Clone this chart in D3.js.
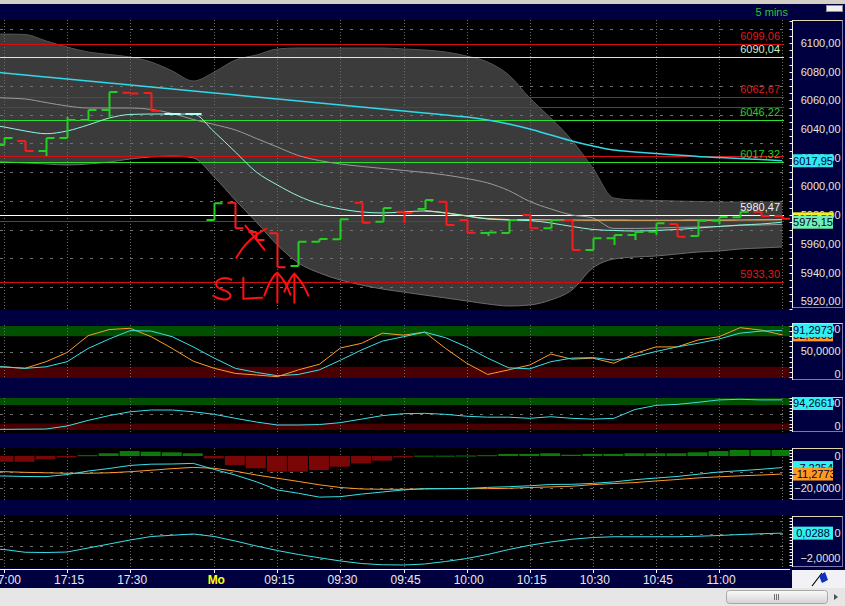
<!DOCTYPE html>
<html><head><meta charset="utf-8">
<script src="https://cdn.jsdelivr.net/npm/d3@7/dist/d3.min.js"></script>
<style>html,body{margin:0;padding:0;background:#000040;overflow:hidden}svg{display:block}</style>
</head><body>
<svg id="chart" width="845" height="606"></svg>
<script>
// ---------------- DATA ----------------
const times = ["16:55","17:00","17:05","17:10","17:15","17:20","17:25","17:30","17:35","17:40","17:45",
 "09:00","09:05","09:10","09:15","09:20","09:25","09:30","09:35","09:40","09:45","09:50","09:55",
 "10:00","10:05","10:10","10:15","10:20","10:25","10:30","10:35","10:40","10:45","10:50","10:55",
 "11:00","11:05","11:10","11:15"];
const gridTimes = ["17:00","17:15","17:30","09:00","09:15","09:30","09:45","10:00","10:15","10:30","10:45","11:00","11:15"];
const timeLabels = ["17:00","17:15","17:30","09:00","09:15","09:30","09:45","10:00","10:15","10:30","10:45","11:00"];
const dayLabel = "Mo";
const dayStart = "09:00";

const open  = [null,6028.9,6031.7,6024.8,6033.8,6046.3,6053.3,6065.4,6065.1,6050.5,6050.5,
 5976.7,5988.7,5968.3,5967.4,5944.6,5961.6,5963.3,5988.7,5975.5,5982.5,5984.3,5989.4,
 5976.7,5967.6,5967.6,5980.2,5970.9,5976.7,5955.8,5963.9,5966.2,5968.5,5973.9,5965.5,
 5976.2,5978.6,5982.5,5979.5];
const close = [null,6033.8,6024.8,6033.8,6046.3,6053.3,6065.8,6064.8,6052.6,6050.5,6050.5,
 5988.3,5970.9,5962.7,5943.7,5961.6,5963.5,5977.2,5974.8,5985.0,5981.6,5990.6,5973.2,
 5967.8,5967.9,5976.7,5970.9,5976.7,5955.8,5963.9,5966.2,5968.3,5974.4,5965.1,5976.2,
 5978.8,5982.5,5979.5,5977.5];
const high  = [null,null,null,null,6048.4,null,null,null,null,null,null,
 null,null,null,null,null,null,null,null,null,null,null,null,
 null,null,null,null,null,null,null,null,null,null,null,null,null,null,null,null];
const low   = [null,null,null,6021.3,null,null,6048.4,null,null,null,null,
 null,null,null,null,null,null,null,null,null,5974.6,null,null,
 null,5965.5,null,null,null,null,null,5959.3,5962.7,5966.2,null,null,5973.9,null,null,null];

const bbUpper = [6106.2,6106.2,6105.9,6101.4,6097.2,6093.7,6092.0,6090.2,6086.7,6080.5,6073.5,
 6079.8,6088.1,6091.6,6095.8,6096.5,6096.5,6096.5,6096.5,6096.5,6095.8,6095.1,6093.7,
 6090.9,6086.7,6077.7,6061.7,6047.7,6032.4,6012.9,5992.0,5990.6,5990.3,5989.9,5989.6,
 5989.2,5989.2,5989.2,5989.2];
const bbLower = [6018.5,6017.3,6016.4,6015.7,6015.0,6015.7,6017.1,6019.2,6020.6,6021.3,6019.9,
 6006.6,5990.6,5975.3,5959.3,5946.7,5939.8,5934.9,5931.4,5928.6,5926.5,5924.4,5922.4,
 5920.3,5918.2,5916.8,5917.5,5921.0,5927.9,5943.3,5949.5,5950.9,5951.6,5953.0,5954.4,
 5955.1,5956.5,5957.2,5957.9];
const bbMid = [6062.4,6061.7,6061.0,6058.5,6056.1,6054.7,6054.7,6054.7,6053.7,6050.9,6046.7,
 6043.2,6039.4,6033.5,6027.5,6021.6,6018.1,6015.7,6014.0,6012.6,6011.2,6009.8,6008.0,
 6005.6,6002.5,5997.2,5989.6,5984.4,5980.2,5978.1,5970.8,5970.8,5971.1,5971.5,5971.8,
 5972.2,5972.9,5973.2,5973.6];
const maLong = [6080.5,6079.1,6077.7,6076.3,6074.9,6073.5,6072.1,6070.7,6069.3,6067.9,6066.5,
 6065.2,6063.8,6062.4,6061.0,6059.6,6058.2,6056.8,6055.4,6054.0,6052.6,6051.2,6049.8,
 6048.4,6046.3,6043.6,6040.1,6035.9,6031.7,6028.2,6025.4,6024.1,6023.0,6022.0,6020.9,
 6020.2,6019.5,6018.8,6017.95];
const maShort = [6043.6,6041.5,6038.7,6036.8,6038.7,6042.9,6047.7,6050.2,6050.5,6050.5,6050.5,
 6038.0,6024.1,6010.1,6001.1,5993.4,5987.8,5984.4,5982.3,5981.6,5982.3,5983.0,5981.6,
 5979.5,5977.4,5976.7,5976.3,5974.6,5972.2,5970.1,5969.4,5969.0,5969.4,5970.1,5971.1,
 5972.2,5973.2,5973.9,5975.15];
const maSlow = [null,null,null,null,null,null,null,null,null,null,null,
 null,null,null,null,null,null,null,null,null,null,5983.0,5981.6,
 5979.5,5977.6,5977.0,5976.9,5976.8,5976.7,5976.6,5976.6,5976.5,5976.5,5976.5,5976.6,
 5976.6,5976.7,5976.8,5976.9];

const redLevels = [6099.06, 6062.67, 5933.30];
const paleGreenLevels = [6090.04];
const greenLevels = [6046.22, 6017.32];
const whiteLevels = [5980.47];
const plainRedLines = [6055.6, 6021.6, 5975.9];
const priceTicks = [6100,6080,6060,6040,6020,6000,5980,5960,5940,5920];
const priceGrid = [6110,6090,6070,6050,6030,6010,5990,5970,5950,5930];

const stochK = [21,19.6,17,30,48,81,93,95.5,79,56,31,
 17,7,4,0.6,14,25,57,66,86,82,88,56,27,5,14,23.5,45,35,37,27,46,59,59,72.5,79,96.7,92,82.6];
const stochD = [20,20,17,20,30,56,74.5,91,90,79,59,
 37,17,9,2.5,5,14,33,53,70.5,79,88,77,59,37,18,16,30,37,38,33,40,50,59,66,74.5,86,90,91.2973];
const stochTicks = [100,50,0];

const rsiLine = [2,2,2.5,3,12.5,30,45,57,62.5,62.5,57,
 49,36.5,25,15.6,15.6,17,23,34,45,51,52,49,43,40,40,36.5,41.5,36.5,34,36.5,64,77,80,86.5,94,96,94,94.2661];
const rsiTicks = [100,0];

const macdHist = [-3.6,-3.6,-3.6,-2.0,-0.9,0.5,1.7,3.1,2.7,2.3,1.7,
 -1.5,-5.6,-7.7,-9.8,-9.8,-8.8,-6.7,-4.6,-2.9,-0.9,0.2,0.2,0.3,0.5,1.3,1.3,1.7,0.8,1.3,1.3,1.7,1.7,1.7,2.3,3.1,3.75,3.75,3.75];
const macdLine = [-12.5,-12.5,-12.8,-12.9,-11.6,-9.4,-7.8,-5.9,-5.1,-5.0,-4.6,
 -8.4,-11.9,-16.1,-21.2,-23.3,-25.7,-25.4,-23.8,-22.5,-21.2,-20.4,-20.4,-20.3,-19.6,-19.2,-18.6,-17.8,-17.7,-17.1,-16.2,-14.8,-13.8,-12.8,-11.4,-10.0,-9.2,-8.3,-7.2254];
const macdSignal = [-9.7,-9.8,-10.2,-10.5,-10.8,-10.8,-10.5,-9.8,-8.9,-7.9,-7.1,
 -7.7,-9.5,-11.9,-13.9,-15.9,-18.0,-19.7,-20.6,-20.8,-20.8,-20.6,-20.4,-20.4,-20.4,-20.2,-19.7,-19.3,-18.9,-17.9,-17.2,-16.6,-15.6,-14.7,-13.7,-13.0,-12.4,-11.9,-11.2773];
const macdTicks = [0,-20];

const oscLine = [-1.2,-1.28,-1.5,-1.52,-1.48,-1.16,-0.84,-0.52,-0.24,-0.14,-0.04,
 -0.24,-0.6,-1.0,-1.36,-1.68,-1.94,-2.2,-2.4,-2.5,-2.52,-2.44,-2.24,-2.0,-1.68,-1.28,-0.94,-0.68,-0.46,-0.32,-0.26,-0.26,-0.26,-0.26,-0.22,-0.16,-0.08,-0.02,0.0288];
const oscTicks = [0,-2];

const timeframe = "5 mins";

// ---------------- LAYOUT ----------------
const FONT = "'Liberation Sans', Arial, sans-serif";
const CW = 790, AX = 792.5, AR = 842.5;
const NAVY = "#000040";
const svg = d3.select("#chart");
svg.append("rect").attr("width",845).attr("height",606).attr("fill",NAVY);
svg.append("rect").attr("width",845).attr("height",4).attr("fill","#d4d0c8");
svg.append("rect").attr("x",826.5).attr("y",5.5).attr("width",16).attr("height",6).attr("fill","#f0f0f0").attr("stroke","#909090");
svg.append("text").attr("x",788).attr("y",16).attr("text-anchor","end").attr("font-family",FONT)
  .attr("font-size",11).attr("fill","#2fc02f").text(timeframe);

const defs = svg.append("defs");
defs.append("clipPath").attr("id","clipC").append("rect").attr("x",0).attr("y",0).attr("width",CW).attr("height",606);

const x = d3.scalePoint().domain(times).range([-17.03, 782.1]);
const idx = d3.range(times.length);
const fmtC = (v,d)=> v===0 ? "0" : d3.format("."+d+"f")(v).replace(".",",");

function panel(top, bottom){
  const g = svg.append("g");
  g.append("rect").attr("x",0).attr("y",top).attr("width",CW).attr("height",bottom-top).attr("fill","#000");
  const inner = g.append("g").attr("clip-path","url(#clipC)");
  return {g, inner, top, bottom};
}
function vgrid(p){
  p.inner.selectAll(null).data(gridTimes).join("line")
    .attr("x1",d=>Math.round(x(d))+0.5).attr("x2",d=>Math.round(x(d))+0.5)
    .attr("y1",p.top).attr("y2",p.bottom).attr("stroke","#6a6a6a").attr("stroke-dasharray","1,2");
}
function hgrid(p, yS, vals){
  p.inner.selectAll(null).data(vals).join("line")
    .attr("x1",0).attr("x2",CW).attr("y1",d=>Math.round(yS(d))+0.5).attr("y2",d=>Math.round(yS(d))+0.5)
    .attr("stroke","#707070").attr("stroke-dasharray","3,7");
}
function axisBox(top, bottom, yS, tickVals, labels, dec){
  const g = svg.append("g");
  g.append("rect").attr("x",AX).attr("y",top+0.5).attr("width",AR-AX).attr("height",bottom-top-1)
    .attr("fill",NAVY).attr("stroke","#7a7ab0");
  g.append("line").attr("x1",AX).attr("x2",AR).attr("y1",top+0.5).attr("y2",top+0.5).attr("stroke","#e0d8a8");
  g.append("line").attr("x1",AX).attr("x2",AX).attr("y1",top).attr("y2",bottom).attr("stroke","#f0f0e0");
  g.selectAll(null).data(tickVals).join("line")
    .attr("x1",AX-3).attr("x2",AX).attr("y1",d=>Math.round(yS(d))+0.5).attr("y2",d=>Math.round(yS(d))+0.5)
    .attr("stroke","#f0f0e0");
  g.selectAll(null).data(labels).join("text")
    .attr("x",AR-2).attr("y",d=>Math.min(Math.max(yS(d), top+6), bottom-6)).attr("dy","0.36em")
    .attr("text-anchor","end").attr("font-family",FONT).attr("font-size",11).attr("fill","#e6e6d6")
    .text(d=>fmtC(d,dec));
  return g;
}
function badge(top, bottom, yv, txt, bg){
  const yc = Math.min(Math.max(yv, top+6.5), bottom-6.5);
  const g = svg.append("g");
  g.append("rect").attr("x",793).attr("y",yc-6.5).attr("width",40).attr("height",13).attr("fill",bg);
  g.append("text").attr("x",813).attr("y",yc).attr("dy","0.36em").attr("text-anchor","middle")
    .attr("font-family",FONT).attr("font-size",11).attr("fill","#000030").text(txt);
}

// ---------------- MAIN PRICE PANEL ----------------
const P = panel(20, 310);
const y = d3.scaleLinear().domain([5914, 6116]).range([310, 20]);
P.inner.append("path").datum(idx)
  .attr("d", d3.area().x(i=>x(times[i])).y0(i=>y(bbLower[i])).y1(i=>y(bbUpper[i])).curve(d3.curveMonotoneX))
  .attr("fill","#3b3b3b");
const lineP = arr => d3.line().defined(i=>arr[i]!=null).x(i=>x(times[i])).y(i=>y(arr[i])).curve(d3.curveMonotoneX);
P.inner.append("path").datum(idx).attr("d",lineP(bbUpper)).attr("fill","none").attr("stroke","#555").attr("stroke-width",1);
P.inner.append("path").datum(idx).attr("d",lineP(bbLower)).attr("fill","none").attr("stroke","#6a6a6a").attr("stroke-width",1);
hgrid(P, y, priceGrid);
vgrid(P);
const hl = (vals, col) => P.inner.selectAll(null).data(vals).join("line")
  .attr("x1",0).attr("x2",784).attr("y1",d=>Math.round(y(d))+0.5).attr("y2",d=>Math.round(y(d))+0.5)
  .attr("stroke",col).attr("stroke-width",1.2);
hl(plainRedLines, "#d01010");
hl(redLevels, "#d01010");
hl(paleGreenLevels, "#b8ffb8");
hl(greenLevels, "#30e030");
hl(whiteLevels, "#ffffff");

P.inner.append("path").datum(idx).attr("d",lineP(bbMid)).attr("fill","none").attr("stroke","#9a9a9a").attr("stroke-width",1);
P.inner.append("path").datum(idx).attr("d",lineP(maLong)).attr("fill","none").attr("stroke","#30d8e8").attr("stroke-width",1.5);
P.inner.append("path").datum(idx).attr("d",lineP(maSlow)).attr("fill","none").attr("stroke","#f0b868").attr("stroke-width",1.2);
P.inner.append("path").datum(idx).attr("d",lineP(maShort)).attr("fill","none").attr("stroke","#90f8e0").attr("stroke-width",1);

// price bars
const bars = idx.filter(i=>open[i]!=null).map(i=>({t:times[i], o:open[i], c:close[i],
  h: high[i]!=null?high[i]:Math.max(open[i],close[i]), l: low[i]!=null?low[i]:Math.min(open[i],close[i])}));
P.inner.selectAll(null).data(bars).join("path")
  .attr("d", d=>{const X=Math.round(x(d.t))+0.5;
    return `M${X-8},${y(d.o)}H${X}M${X},${y(d.h)}V${y(d.l)}M${X},${y(d.c)}H${X+8}`;})
  .attr("fill","none").attr("stroke-width",2)
  .attr("stroke", d=> d.c>d.o ? "#22d022" : d.c<d.o ? "#ff1a1a" : "#b0ffff");

// level labels
const lvlLabel = (vals, col) => P.g.selectAll(null).data(vals).join("text")
  .attr("x",780).attr("y",d=>y(d)-4).attr("text-anchor","end").attr("font-family",FONT)
  .attr("font-size",11).attr("fill",col).text(d=>fmtC(d,2));
lvlLabel(redLevels, "#e01818");
lvlLabel(paleGreenLevels, "#c8f0c8");
lvlLabel(greenLevels, "#28cc28");
lvlLabel(whiteLevels, "#f0f0f0");

// hand-drawn annotations
const ax0 = x("09:10"), ay0 = y(5940);
const ann = P.g.append("g").attr("transform",`translate(${ax0},${ay0})`)
  .attr("fill","none").attr("stroke","#ff1010").attr("stroke-width",2).attr("stroke-linecap","round");
ann.append("path").attr("d","M-11,-47 L8,-23");
ann.append("path").attr("d","M-20,-15 C-13,-27 -4,-37 10,-44");
ann.append("path").attr("d","M-25,7 C-32,3 -42,7 -40,13 C-38,18 -26,17 -26,23 C-26,29 -38,27 -43,23");
ann.append("path").attr("d","M-13,5 L-13,26 L6,25");
ann.append("path").attr("d","M21,1 L21,30");
ann.append("path").attr("d","M8,23 C12,12 16,3 21,0 C26,5 31,13 34,22");
ann.append("path").attr("d","M38,2 L38,30");
ann.append("path").attr("d","M28,19 C31,11 34,5 38,1 C43,6 48,13 52,23");

const minorPrice = d3.range(5915, 6116, 5);
axisBox(20, 308, y, minorPrice, priceTicks, 2);
badge(20, 308, y(maLong[maLong.length-1]), fmtC(maLong[maLong.length-1],2), "#30e8f0");
badge(20, 308, y(close[close.length-1]), fmtC(close[close.length-1],2), "#f0f020");
badge(20, 308, y(maShort[maShort.length-1]), fmtC(maShort[maShort.length-1],2), "#70f0b0");

// ---------------- STOCHASTIC ----------------
const S = panel(325, 378);
const y2 = d3.scaleLinear().domain([0,100]).range([377, 326]);
S.inner.append("rect").attr("x",0).attr("width",CW).attr("y",y2(100)).attr("height",y2(80)-y2(100)).attr("fill","#005000");
S.inner.append("rect").attr("x",0).attr("width",CW).attr("y",y2(20)).attr("height",y2(0)-y2(20)+1).attr("fill","#4a0000");
hgrid(S, y2, [50]); vgrid(S);
const l2 = arr => d3.line().x(i=>x(times[i])).y(i=>y2(arr[i]));
S.inner.append("path").datum(idx).attr("d",l2(stochK)).attr("fill","none").attr("stroke","#ff9a2a");
S.inner.append("path").datum(idx).attr("d",l2(stochD)).attr("fill","none").attr("stroke","#38e0e8");
axisBox(323, 380, y2, d3.range(0,101,10), stochTicks, 4);
badge(323, 380, y2(stochK[stochK.length-1]), fmtC(stochK[stochK.length-1],4), "#ff9a20");
badge(323, 380, y2(stochD[stochD.length-1]), fmtC(stochD[stochD.length-1],4), "#30f0f0");

// ---------------- PANEL 3 ----------------
const R = panel(398, 433);
const y3 = d3.scaleLinear().domain([0,100]).range([430, 398]);
R.inner.append("rect").attr("x",0).attr("width",CW).attr("y",y3(100)).attr("height",y3(78)-y3(100)).attr("fill","#005000");
R.inner.append("rect").attr("x",0).attr("width",CW).attr("y",y3(20)).attr("height",y3(0)-y3(20)).attr("fill","#4a0000");
hgrid(R, y3, [50]); vgrid(R);
R.inner.append("path").datum(idx).attr("d",d3.line().x(i=>x(times[i])).y(i=>y3(rsiLine[i])))
  .attr("fill","none").attr("stroke","#38e0e8");
axisBox(397, 432, y3, d3.range(0,101,10), rsiTicks, 4);
badge(397, 432, y3(rsiLine[rsiLine.length-1]), fmtC(rsiLine[rsiLine.length-1],4), "#30f0f0");

// ---------------- MACD ----------------
const M = panel(448, 500);
const y4 = d3.scaleLinear().domain([-27.5, 5]).range([500, 448]);
hgrid(M, y4, [-10,-20]); vgrid(M);
M.inner.selectAll(null).data(idx).join("rect")
  .attr("x",i=>x(times[i])-10.5).attr("width",20)
  .attr("y",i=>Math.min(y4(0),y4(macdHist[i]))).attr("height",i=>Math.max(1,Math.abs(y4(macdHist[i])-y4(0))))
  .attr("fill",i=>macdHist[i]>=0?"#0a7a0a":"#7a0606");
const l4 = arr => d3.line().x(i=>x(times[i])).y(i=>y4(arr[i]));
M.inner.append("path").datum(idx).attr("d",l4(macdSignal)).attr("fill","none").attr("stroke","#ff9a2a");
M.inner.append("path").datum(idx).attr("d",l4(macdLine)).attr("fill","none").attr("stroke","#38e0e8");
axisBox(448, 500, y4, d3.range(-26,5,2), macdTicks, 4);
badge(448, 500, y4(macdLine[macdLine.length-1]), fmtC(macdLine[macdLine.length-1],4), "#30f0f0");
badge(448, 500, y4(macdSignal[macdSignal.length-1]), fmtC(macdSignal[macdSignal.length-1],4), "#ff9a20");

// ---------------- PANEL 5 ----------------
const O = panel(515, 568);
const y5 = d3.scaleLinear().domain([-2.76, 1.48]).range([568, 515]);
hgrid(O, y5, [1,0,-1,-2]); vgrid(O);
O.inner.append("path").datum(idx).attr("d",d3.line().x(i=>x(times[i])).y(i=>y5(oscLine[i])))
  .attr("fill","none").attr("stroke","#38e0e8");
axisBox(516, 567, y5, d3.range(-2.5,1.3,0.25), oscTicks, 4);
badge(516, 567, y5(oscLine[oscLine.length-1]), fmtC(oscLine[oscLine.length-1],4), "#30f0f0");

// ---------------- TIME AXIS ----------------
svg.append("line").attr("x1",0).attr("x2",CW).attr("y1",569.5).attr("y2",569.5).attr("stroke","#ffffff");
const xa = svg.append("g").attr("clip-path","url(#clipC)");
xa.selectAll(null).data(timeLabels).join("line")
  .attr("x1",d=>Math.round(x(d))+0.5).attr("x2",d=>Math.round(x(d))+0.5).attr("y1",570).attr("y2",573).attr("stroke","#fff");
xa.selectAll(null).data(timeLabels).join("text")
  .attr("x",d=>x(d)+2).attr("y",584).attr("text-anchor","middle").attr("font-family",FONT)
  .attr("font-size",12).attr("fill",d=>d===dayStart?"#ffff00":"#e8e8e8")
  .attr("font-weight",d=>d===dayStart?"bold":"normal")
  .text(d=>d===dayStart?dayLabel:d);
svg.append("rect").attr("x",792).attr("y",570).attr("width",53).attr("height",18).attr("fill","#f2f2f6");
const flag = svg.append("g").attr("transform","translate(818,579)");
flag.append("line").attr("x1",-6).attr("y1",7).attr("x2",4).attr("y2",-6).attr("stroke","#000").attr("stroke-width",1.2);
flag.append("path").attr("d","M1,-3 L7,-7 L10,1 L4,4 Z").attr("fill","#1030c0");

// scrollbar
svg.append("rect").attr("x",0).attr("y",588).attr("width",845).attr("height",18).attr("fill","#e6e6e6");
const gr = defs.append("linearGradient").attr("id","thumb").attr("x1",0).attr("x2",0).attr("y1",0).attr("y2",1);
gr.append("stop").attr("offset","0").attr("stop-color","#fafafa");
gr.append("stop").attr("offset","1").attr("stop-color","#d4d4d4");
svg.append("rect").attr("x",726.5).attr("y",590.5).attr("width",101).attr("height",13).attr("rx",3)
  .attr("fill","url(#thumb)").attr("stroke","#a8a8a8");
svg.selectAll(null).data([-2,0,2]).join("line").attr("x1",d=>776.5+d).attr("x2",d=>776.5+d)
  .attr("y1",594).attr("y2",600).attr("stroke","#707070");
svg.append("path").attr("d","M834,594 L838,597 L834,600 Z").attr("fill","#505050");
</script>
</body></html>
